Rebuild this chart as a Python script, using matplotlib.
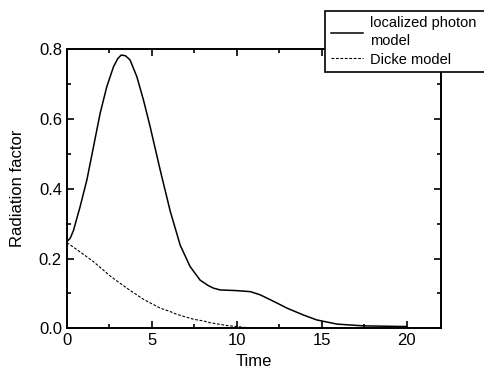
import matplotlib
matplotlib.use('Agg')
import matplotlib.pyplot as plt
from matplotlib.ticker import MultipleLocator, FormatStrFormatter

plt.rcParams['font.family'] = ['Liberation Sans', 'DejaVu Sans']

# localized photon model
t_photon = [0, 0.2, 0.39, 0.78, 1.18, 1.57, 1.96, 2.35, 2.75, 3.0, 3.2, 3.45, 3.72, 4.12,
            4.51, 4.9, 5.49, 6.08, 6.67, 7.25, 7.84, 8.3, 8.63, 9.02, 10.0, 10.8, 11.37,
            11.96, 12.5, 12.94, 13.92, 14.7, 15.9, 17.45, 20]
y_photon = [0.248, 0.258, 0.28, 0.348, 0.425, 0.52, 0.616, 0.692, 0.75, 0.773, 0.783,
            0.781, 0.769, 0.721, 0.654, 0.578, 0.454, 0.336, 0.238, 0.177, 0.138, 0.123,
            0.115, 0.110, 0.108, 0.105, 0.096, 0.082, 0.069, 0.058, 0.038, 0.024, 0.012,
            0.007, 0.005]

# Dicke model
t_dicke = [0, 0.2, 0.78, 1.57, 2.55, 3.53, 4.51, 5.49, 6.08, 6.47, 7.45, 8.04, 8.43,
           9.41, 9.8, 10.6, 11.2]
y_dicke = [0.245, 0.239, 0.219, 0.191, 0.150, 0.115, 0.083, 0.058, 0.048, 0.040, 0.026,
           0.021, 0.016, 0.008, 0.006, 0.002, 0.0]

fig = plt.figure(figsize=(4.84, 3.75), dpi=100)
ax = fig.add_axes([0.138, 0.1245, 0.773, 0.7445])

ax.plot(t_photon, y_photon, color='black', lw=1.1, label='localized photon\nmodel')
ax.plot(t_dicke, y_dicke, color='black', lw=0.8, ls=(0, (2.5, 1.5)), label='Dicke model')

ax.set_xlim(0, 22)
ax.set_ylim(0, 0.8)
ax.xaxis.set_major_locator(MultipleLocator(5))
ax.xaxis.set_minor_locator(MultipleLocator(2.5))
ax.yaxis.set_major_locator(MultipleLocator(0.2))
ax.yaxis.set_minor_locator(MultipleLocator(0.1))
ax.set_xticks([0, 5, 10, 15, 20])
ax.yaxis.set_major_formatter(FormatStrFormatter('%.1f'))
ax.tick_params(which='both', direction='in', top=True, right=True, labelsize=12, width=1.2)
ax.tick_params(which='major', length=5)
ax.tick_params(which='minor', length=3)
for s in ax.spines.values():
    s.set_linewidth(1.4)

ax.set_xlabel('Time', fontsize=12, labelpad=4)
ax.set_ylabel('Radiation factor', fontsize=12, labelpad=10)

# legend box runs past the right edge of the figure, as in the original
leg = fig.legend(loc='upper left', bbox_to_anchor=(0.672, 0.5, 0.4, 0.472), mode='expand',
                 borderaxespad=0, fontsize=10.5, frameon=True, fancybox=False,
                 edgecolor='black', framealpha=1, handlelength=2.2, handletextpad=0.5,
                 borderpad=0.4, labelspacing=0.3)
leg.get_frame().set_linewidth(1.2)
for t in leg.get_texts():
    t.set_linespacing(1.35)

fig.savefig('out.png', dpi=100)
